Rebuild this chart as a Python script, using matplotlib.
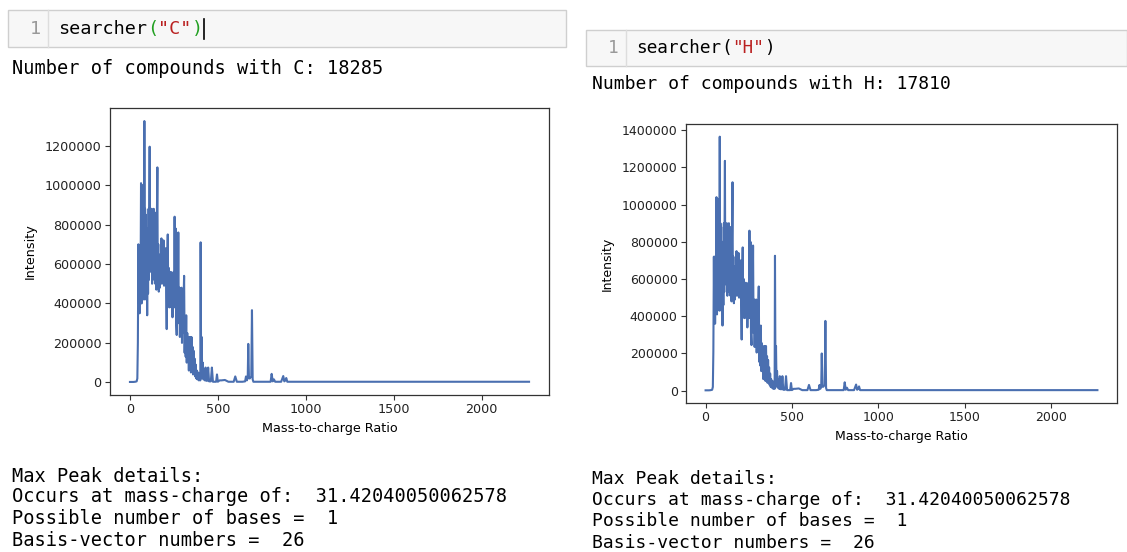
import matplotlib
matplotlib.use("Agg")
import matplotlib.pyplot as plt
from matplotlib.patches import Rectangle

# ---------------- data ----------------
mz = [0, 10, 20, 30, 38, 42, 45, 48, 50, 52,
      55, 58, 60, 63, 66, 68, 70, 72, 75, 78,
      80, 82, 84, 86, 88, 90, 92, 95, 98, 100,
      103, 106, 108, 110, 112, 114, 117, 120, 123, 126,
      129, 132, 135, 138, 141, 144, 147, 150, 153, 156,
      158, 161, 164, 167, 170, 173, 176, 179, 182, 185,
      188, 191, 194, 197, 200, 203, 206, 209, 212, 215,
      218, 221, 224, 227, 230, 233, 236, 239, 242, 245,
      248, 251, 254, 257, 260, 263, 266, 269, 272, 275,
      278, 281, 284, 287, 290, 293, 296, 299, 302, 305,
      308, 311, 314, 317, 320, 323, 326, 329, 332, 335,
      338, 341, 344, 347, 350, 353, 356, 359, 362, 365,
      368, 371, 374, 377, 380, 384, 388, 392, 396, 400,
      402, 405, 408, 411, 414, 418, 422, 426, 430, 434,
      440, 445, 450, 460, 466, 472, 480, 490, 495, 500,
      510, 520, 540, 560, 575, 590, 599, 608, 620, 640,
      655, 660, 665, 670, 673, 677, 682, 690, 694, 698,
      702, 720, 760, 800, 806, 812, 819, 826, 840, 860,
      872, 878, 884, 889, 895, 904, 950, 1000, 1200, 1500,
      1800, 2000, 2270]

intensity_C = [2000, 2000, 2000, 3000, 5000, 20000, 200000, 700000, 400000, 690000,
               350000, 600000, 420000, 1010000, 400000, 650000, 450000, 1000000, 560000, 700000,
               420000, 1325000, 550000, 880000, 600000, 850000, 420000, 780000, 340000, 700000,
               450000, 880000, 520000, 850000, 1195000, 600000, 870000, 560000, 880000, 500000,
               840000, 600000, 880000, 520000, 800000, 500000, 860000, 470000, 820000, 1090000,
               560000, 700000, 460000, 620000, 480000, 650000, 520000, 730000, 500000, 680000,
               560000, 720000, 490000, 640000, 520000, 680000, 450000, 270000, 600000, 750000,
               420000, 580000, 380000, 520000, 450000, 560000, 380000, 520000, 330000, 480000,
               560000, 380000, 840000, 400000, 780000, 300000, 240000, 620000, 380000, 760000,
               300000, 480000, 230000, 420000, 300000, 480000, 200000, 350000, 250000, 420000,
               540000, 150000, 330000, 130000, 340000, 100000, 250000, 120000, 210000, 60000,
               230000, 100000, 230000, 50000, 230000, 90000, 180000, 40000, 160000, 70000,
               120000, 30000, 90000, 20000, 60000, 15000, 50000, 10000, 30000, 10000,
               710000, 20000, 230000, 30000, 100000, 15000, 60000, 10000, 75000, 8000,
               8000, 75000, 5000, 5000, 75000, 3000, 3000, 3000, 40000, 3000,
               10000, 10000, 12000, 3000, 3000, 3000, 30000, 3000, 3000, 3000,
               5000, 30000, 10000, 30000, 195000, 20000, 20000, 30000, 366000, 15000,
               3000, 3000, 3000, 3000, 43000, 5000, 15000, 3000, 3000, 3000,
               32000, 5000, 10000, 22000, 3000, 3000, 3000, 3000, 3000, 3000,
               3000, 3000, 3000]

intensity_H = [2000, 2000, 2000, 3000, 5000, 20000, 210000, 720000, 410000, 720000,
               360000, 620000, 430000, 1040000, 410000, 670000, 460000, 1030000, 570000, 720000,
               430000, 1365000, 560000, 900000, 610000, 880000, 430000, 800000, 350000, 720000,
               460000, 900000, 530000, 880000, 1235000, 610000, 890000, 570000, 900000, 510000,
               860000, 610000, 900000, 530000, 820000, 510000, 880000, 480000, 840000, 1120000,
               570000, 720000, 470000, 640000, 490000, 670000, 530000, 750000, 510000, 700000,
               570000, 740000, 500000, 660000, 530000, 700000, 460000, 275000, 620000, 770000,
               430000, 600000, 390000, 540000, 460000, 580000, 390000, 540000, 340000, 490000,
               580000, 390000, 860000, 410000, 800000, 310000, 245000, 640000, 390000, 780000,
               310000, 490000, 235000, 430000, 310000, 490000, 205000, 360000, 255000, 430000,
               560000, 155000, 340000, 135000, 350000, 105000, 255000, 125000, 215000, 62000,
               240000, 105000, 240000, 52000, 240000, 92000, 185000, 42000, 165000, 72000,
               125000, 31000, 92000, 21000, 62000, 16000, 52000, 10000, 31000, 10000,
               725000, 21000, 240000, 31000, 105000, 16000, 62000, 10000, 78000, 8000,
               8000, 78000, 5000, 5000, 78000, 3000, 3000, 3000, 41000, 3000,
               10000, 10000, 12000, 3000, 3000, 3000, 31000, 3000, 3000, 3000,
               5000, 31000, 10000, 31000, 200000, 21000, 21000, 31000, 375000, 15000,
               3000, 3000, 3000, 3000, 45000, 5000, 16000, 3000, 3000, 3000,
               33000, 5000, 10000, 23000, 3000, 3000, 3000, 3000, 3000, 3000,
               3000, 3000, 3000]

elements = ["C", "H"]
compound_counts = [18285, 17810]
max_peak_mz = "31.42040050062578"
n_bases = 1
basis_vector = 26

# ---------------- layout ----------------
W, H = 1127, 552
fig = plt.figure(figsize=(W / 100, H / 100), dpi=100)
fig.patch.set_facecolor("white")

bg = fig.add_axes([0, 0, 1, 1], zorder=0)
bg.set_xlim(0, W)
bg.set_ylim(H, 0)
bg.axis("off")

MONO = "DejaVu Sans Mono"
LINE_COLOR = "#4a6fb0"


def adv(fs):
    return 0.602 * fs * 100 / 72  # pixel advance of one monospace char


def code_cell(x0, y0, x1, y1, gutter_x, num_x, code_x, elem, paren_color, cursor, fs):
    a = adv(fs)
    bg.add_patch(Rectangle((x0, y0), x1 - x0, y1 - y0, facecolor="#f7f7f7",
                           edgecolor="#cfcfcf", lw=1.0))
    bg.plot([gutter_x, gutter_x], [y0, y1], color="#dddddd", lw=1.0)
    yc = (y0 + y1) / 2
    bg.text(num_x, yc, "1", family=MONO, fontsize=fs, color="#999999",
            ha="center", va="center")
    bg.text(code_x, yc, "searcher", family=MONO, fontsize=fs, color="black",
            ha="left", va="center")
    bg.text(code_x + 8 * a, yc, "(", family=MONO, fontsize=fs, color=paren_color,
            ha="left", va="center")
    bg.text(code_x + 9 * a, yc, '"%s"' % elem, family=MONO, fontsize=fs,
            color="#ba2121", ha="left", va="center")
    bg.text(code_x + 12 * a, yc, ")", family=MONO, fontsize=fs, color=paren_color,
            ha="left", va="center")
    if cursor:
        cx = code_x + 13 * a + 1
        bg.plot([cx, cx], [yc - 10, yc + 10], color="black", lw=1.2)


def out_lines(x, ys, elem, count, fs):
    bg.text(x, ys[0], "Number of compounds with %s: %d" % (elem, count),
            family=MONO, fontsize=fs, color="black", ha="left", va="center")
    lines = ["Max Peak details:",
             "Occurs at mass-charge of:  %s" % max_peak_mz,
             "Possible number of bases =  %d" % n_bases,
             "Basis-vector numbers =  %d" % basis_vector]
    for yy, s in zip(ys[1:], lines):
        bg.text(x, yy, s, family=MONO, fontsize=fs, color="black",
                ha="left", va="center")


def px_axes(l, t, r, b):
    return fig.add_axes([l / W, 1 - b / H, (r - l) / W, (b - t) / H], zorder=2)


def spectrum(ax, y, fs):
    ax.plot(mz, y, color=LINE_COLOR, lw=1.5)
    ax.ticklabel_format(axis="y", style="plain", useOffset=False)
    ax.set_xlabel("Mass-to-charge Ratio", fontsize=fs, labelpad=4)
    ax.set_ylabel("Intensity", fontsize=fs, labelpad=6)
    ax.tick_params(labelsize=fs, length=3.5, width=0.8, pad=2.5, color="#333333",
                   labelcolor="#222222")
    for s in ax.spines.values():
        s.set_color("#333333")
        s.set_linewidth(0.9)


# left panel
code_cell(8, 10, 566, 47, 48, 35, 58, elements[0], "#22a022", True, 13.3)
out_lines(12, [68, 476, 497, 518, 540], elements[0], compound_counts[0], 13.4)
axL = px_axes(110, 108, 549, 395)
spectrum(axL, intensity_C, 9.2)

# right panel
code_cell(586, 30, 1127, 66, 626, 613, 636, elements[1], "black", False, 12.8)
out_lines(592, [84, 479, 500, 521, 543], elements[1], compound_counts[1], 13.0)
axR = px_axes(686, 124, 1117, 403)
spectrum(axR, intensity_H, 9.0)

fig.savefig("out.png", dpi=100, facecolor="white")
